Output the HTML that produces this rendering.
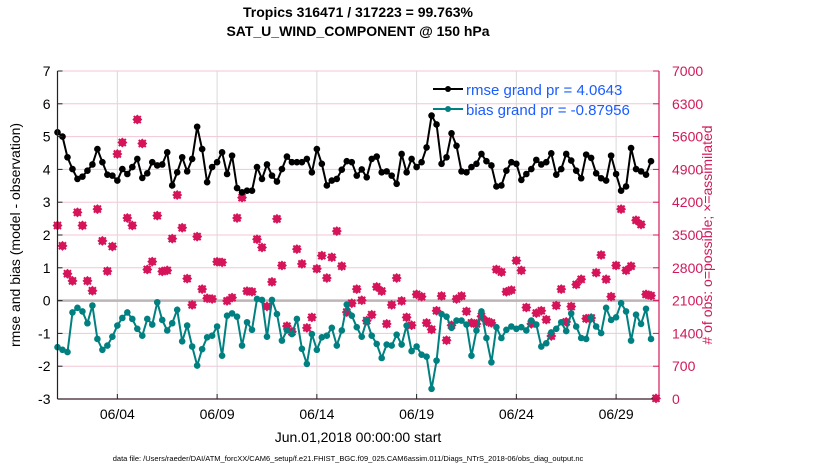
<!DOCTYPE html>
<html><head><meta charset="utf-8"><style>
body{margin:0;background:#fff;}
svg{display:block;font-family:"Liberation Sans",sans-serif;}
</style></head><body>
<svg id="chart" width="830" height="470" viewBox="0 0 830 470" xmlns="http://www.w3.org/2000/svg">
<text x="358" y="17" font-size="14" font-weight="bold" text-anchor="middle">Tropics 316471 / 317223 = 99.763%</text>
<text x="358" y="36" font-size="14" font-weight="bold" text-anchor="middle">SAT_U_WIND_COMPONENT @ 150 hPa</text>
<g id="grid"></g>
<g id="series"></g>
<g id="axes"></g>
<text transform="translate(20,235) rotate(-90)" font-size="14" text-anchor="middle">rmse and bias (model - observation)</text>
<text transform="translate(712,235) rotate(-90)" font-size="14" fill="#d1195a" text-anchor="middle"># of obs: o=possible; ×=assimilated</text>
<text x="358" y="442" font-size="14" text-anchor="middle">Jun.01,2018 00:00:00 start</text>
<text x="348" y="461" font-size="7.5" text-anchor="middle">data file: /Users/raeder/DAI/ATM_forcXX/CAM6_setup/f.e21.FHIST_BGC.f09_025.CAM6assim.011/Diags_NTrS_2018-06/obs_diag_output.nc</text>
<g id="legend">
<g>
<line x1="433" y1="89" x2="463" y2="89" stroke="#000" stroke-width="2"/><circle cx="448" cy="89" r="3" fill="#000"/>
<text x="466" y="95" font-size="15" fill="#1a5cff">rmse grand pr = 4.0643</text></g>
<g>
<line x1="433" y1="109" x2="463" y2="109" stroke="#008080" stroke-width="2"/><circle cx="448" cy="109" r="3" fill="#008080"/>
<text x="466" y="115" font-size="15" fill="#1a5cff">bias grand pr = -0.87956</text></g>
</g>
</svg>
<script>
const rmse=[5.13,5.0,4.37,4.01,3.71,3.78,3.96,4.15,4.62,4.22,3.84,3.81,3.66,4.01,3.86,4.07,4.32,3.74,3.88,4.22,4.12,4.15,4.52,3.51,3.91,4.37,3.94,4.32,5.3,4.62,3.61,
4.07,4.22,4.52,3.86,4.42,3.43,3.3,3.35,3.35,4.07,3.71,4.15,3.81,3.63,4.01,4.39,4.22,4.22,4.22,4.32,3.91,4.62,4.17,3.51,3.66,3.71,3.99,4.25,4.22,3.81,
4.0,3.76,4.32,4.39,3.91,3.94,3.81,3.56,4.47,3.91,4.32,4.07,4.22,4.67,5.64,5.37,4.17,4.37,5.1,4.72,3.94,3.91,4.07,4.17,4.47,4.25,4.12,3.48,3.51,3.96,
4.22,4.17,3.68,3.86,4.01,4.29,4.15,4.22,4.49,3.84,4.01,4.47,4.27,3.96,3.73,4.45,4.35,3.88,3.73,3.66,4.42,3.86,3.35,3.48,4.65,4.01,3.94,3.84,4.25];
const bias=[-1.42,-1.5,-1.57,-0.36,-0.22,-0.33,-0.69,-0.15,-1.17,-1.5,-1.37,-1.1,-0.76,-0.53,-0.36,-0.56,-0.86,-1.07,-0.56,-0.73,-0.05,-0.59,-0.91,-0.69,-0.28,-1.24,-0.76,-1.4,-1.98,-1.48,-1.12,
-1.07,-0.79,-1.68,-0.46,-0.39,-0.49,-1.37,-0.66,-0.89,0.05,0.02,-1.1,0.02,-0.41,-1.22,-0.91,-1.02,-0.56,-1.47,-1.93,-1.02,-1.5,-1.12,-1.07,-0.83,-1.37,-0.91,-0.12,-0.46,-0.81,
-1.1,-0.61,-1.07,-1.32,-1.75,-1.34,-1.37,-1.04,-1.34,-0.76,-1.54,-1.4,-1.65,-1.71,-2.69,-1.83,-0.41,-0.49,-0.83,-0.61,-0.61,-0.73,-1.68,-0.91,-0.33,-1.14,-1.88,-0.81,-1.14,-0.89,
-0.79,-0.86,-0.81,-0.91,-0.61,-0.73,-1.4,-1.3,-0.97,-0.86,-0.66,-0.93,-0.39,-0.79,-1.14,-1.17,-0.51,-0.79,-0.99,-0.22,-0.59,-0.51,-0.08,-0.33,-1.22,-0.43,-0.71,-0.25,-1.17];
const nobs=[3703,3269,2674,2520,3983,3703,2520,2310,4053,3374,2730,3255,5229,5474,3864,3703,5964,5453,2765,2933,3913,2723,2744,3423,4354,3654,2569,2009,3465,2345,2149,
2135,2929,2915,2093,2163,3864,4298,2303,2289,3409,3234,1974,2499,3843,2849,1554,1435,3199,2884,1519,1743,2779,3059,2583,3024,3584,2835,1855,2044,2345,
2107,1673,1799,2394,2303,1603,2009,2583,2093,1743,1575,2233,2184,1624,1484,1883,2198,1253,1575,2135,2198,1869,1624,1603,1764,1659,1624,2765,2709,2289,
2324,2954,2744,1953,1603,1834,1883,1694,1344,1995,2345,1645,1974,2443,2555,1715,1729,2695,3073,2555,2184,2849,4053,2744,2835,3815,3724,2233,2205,14];
const leftTicks=[-3,-2,-1,0,1,2,3,4,5,6,7];
const rightTicks=[0,700,1400,2100,2800,3500,4200,4900,5600,6300,7000];
const xTickDays=[3,8,13,18,23,28];
const xTickLabels=["06/04","06/09","06/14","06/19","06/24","06/29"];

const X0=57.5,X1=659,Y0=399,Y1=71,DMAX=30.15;
const xs=d=>X0+(d/DMAX)*(X1-X0);
const yl=v=>Y0-(v+3)/10*(Y0-Y1);
const yr=v=>Y0-v/7000*(Y0-Y1);
const NS="http://www.w3.org/2000/svg";
function mk(tag,attrs,parent){const e=document.createElementNS(NS,tag);for(const k in attrs)e.setAttribute(k,attrs[k]);parent.appendChild(e);return e;}
const grid=document.getElementById('grid'),ser=document.getElementById('series'),ax=document.getElementById('axes');

leftTicks.forEach(t=>{if(t===0)return;const g=mk('line',{x1:X0,x2:X1,y1:yl(t),y2:yl(t),stroke:'#f3c6d6','stroke-width':1},grid);

});
xTickDays.forEach(d=>{const g=mk('line',{x1:xs(d),x2:xs(d),y1:Y1,y2:Y0,stroke:'#d8d8d8','stroke-width':1},grid);

});
const z=mk('line',{x1:X0,x2:X1,y1:yl(0),y2:yl(0),stroke:'#bdb5b8','stroke-width':2.5},grid);



// obs counts
nobs.forEach((v,i)=>{const cx=xs(i/4),cy=yr(v);
const g=mk('g',{},ser);


mk('path',{d:`M${cx} ${cy-5}L${cx+5} ${cy}L${cx} ${cy+5}L${cx-5} ${cy}Z`,fill:'#d6145a'},g);
mk('path',{d:`M${cx-3.5} ${cy-3.5}L${cx+3.5} ${cy+3.5}M${cx+3.5} ${cy-3.5}L${cx-3.5} ${cy+3.5}`,stroke:'#d6145a','stroke-width':2},g);});

function line(arr,color,name){
const pts=arr.map((v,i)=>xs(i/4).toFixed(1)+','+yl(v).toFixed(1)).join(' ');
const p=mk('polyline',{points:pts,fill:'none',stroke:color,'stroke-width':2},ser);


arr.forEach((v,i)=>{const c=mk('circle',{cx:xs(i/4),cy:yl(v),r:3.3,fill:color},ser);

});}
line(bias,'#008080','bias');
line(rmse,'#000000','rmse');

// axes
const la=mk('line',{x1:X0,x2:X0,y1:Y1,y2:Y0,stroke:'#222','stroke-width':1.2},ax);


const ba=mk('line',{x1:X0,x2:X1,y1:Y0,y2:Y0,stroke:'#3a1a2a','stroke-width':1.2},ax);


const ra=mk('line',{x1:X1,x2:X1,y1:Y1,y2:Y0,stroke:'#d1195a','stroke-width':1.2},ax);


leftTicks.forEach(t=>{mk('line',{x1:X0,x2:X0+5,y1:yl(t),y2:yl(t),stroke:'#222'},ax);
const tx=mk('text',{x:X0-7,y:yl(t)+5,'font-size':14,'text-anchor':'end'},ax);tx.textContent=t;

});
rightTicks.forEach(t=>{mk('line',{x1:X1-6,x2:X1,y1:yr(t),y2:yr(t),stroke:'#d1195a'},ax);
const tx=mk('text',{x:X1+13,y:yr(t)+5,'font-size':14,fill:'#d1195a'},ax);tx.textContent=t;

});
xTickDays.forEach((d,i)=>{mk('line',{x1:xs(d),x2:xs(d),y1:Y0,y2:Y0-5,stroke:'#222'},ax);
const tx=mk('text',{x:xs(d),y:Y0+20,'font-size':14,'text-anchor':'middle'},ax);tx.textContent=xTickLabels[i];

});
</script>
</body></html>
